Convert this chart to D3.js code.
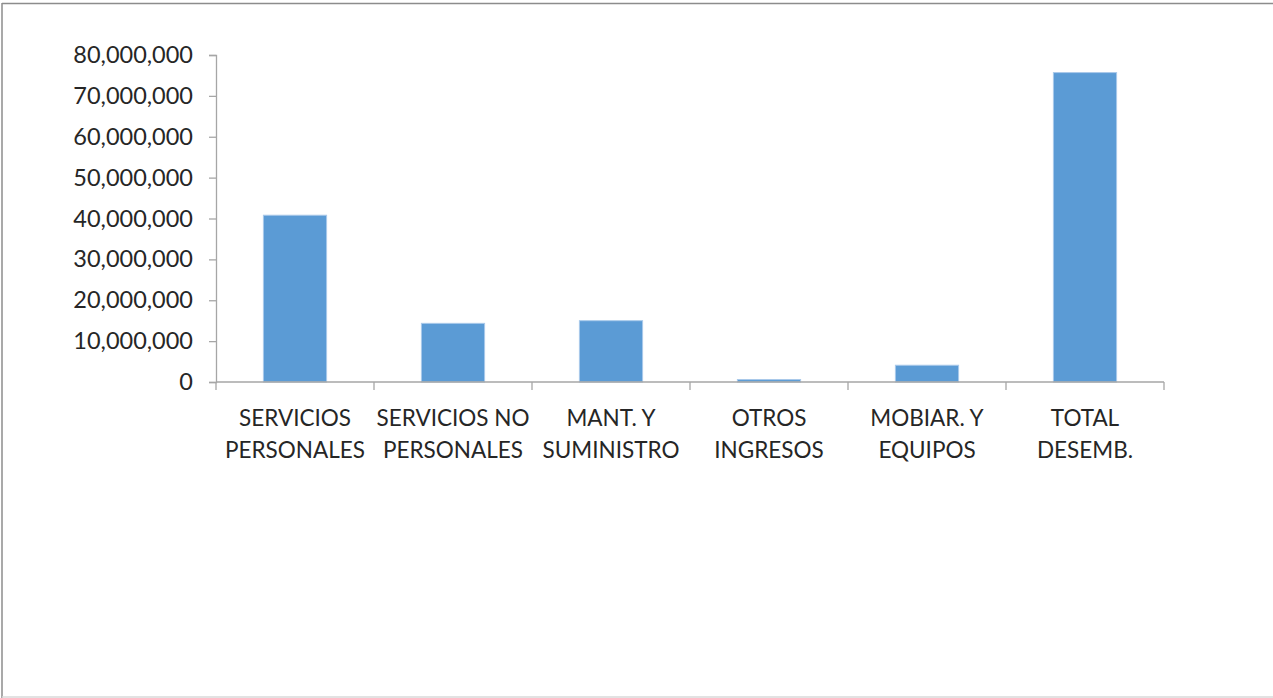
<!DOCTYPE html>
<html>
<head>
<meta charset="utf-8">
<script src="https://cdn.jsdelivr.net/npm/d3@7"></script>
<style>
  body { margin: 0; background: #fff; }
  svg { display: block; font-family: Lato, "Open Sans", sans-serif; }
</style>
</head>
<body>
<svg id="chart" width="1273" height="698"></svg>
<script>
const categories = [
  ["SERVICIOS", "PERSONALES"],
  ["SERVICIOS NO", "PERSONALES"],
  ["MANT. Y", "SUMINISTRO"],
  ["OTROS", "INGRESOS"],
  ["MOBIAR. Y", "EQUIPOS"],
  ["TOTAL", "DESEMB."]
];
const values = [40800000, 14350000, 15000000, 600000, 4100000, 75700000];
const yTicks = [0, 10000000, 20000000, 30000000, 40000000, 50000000, 60000000, 70000000, 80000000];

const svg = d3.select("#chart");

// frame like the original slide
svg.append("line").attr("x1", 2).attr("x2", 1273).attr("y1", 3.5).attr("y2", 3.5)
  .attr("stroke", "#8c8c8c").attr("stroke-width", 1.5);
svg.append("line").attr("x1", 2).attr("x2", 2).attr("y1", 3).attr("y2", 698)
  .attr("stroke", "#8c8c8c").attr("stroke-width", 1.5);
svg.append("line").attr("x1", 2).attr("x2", 1273).attr("y1", 697).attr("y2", 697)
  .attr("stroke", "#d9d9d9").attr("stroke-width", 1.5);

const plotLeft = 216, plotRight = 1164, plotTop = 55, base = 382;
const keys = categories.map((c, i) => i);

const x = d3.scaleBand().domain(keys).range([plotLeft, plotRight]).paddingInner(0.6).paddingOuter(0.3);
const xCat = d3.scaleBand().domain(keys).range([plotLeft, plotRight]);
const y = d3.scaleLinear().domain([0, 80000000]).range([base, plotTop]);

// bars
svg.selectAll("rect.bar")
  .data(values)
  .enter()
  .append("rect")
  .attr("class", "bar")
  .attr("x", (d, i) => x(i))
  .attr("width", x.bandwidth())
  .attr("y", d => y(d))
  .attr("height", d => base - y(d))
  .attr("fill", "#5b9bd5")
  .attr("stroke", "#a9c9ea")
  .attr("stroke-width", 1);

// y axis
const yAxis = d3.axisLeft(y).tickValues(yTicks).tickSize(7).tickPadding(16)
  .tickFormat(d3.format(","));
const gy = svg.append("g").attr("transform", `translate(${plotLeft},0)`).call(yAxis);
gy.select(".domain").attr("stroke", "#a6a6a6").attr("stroke-width", 1.3);
gy.selectAll(".tick line").attr("stroke", "#a6a6a6").attr("stroke-width", 1.3);
gy.selectAll(".tick text").attr("font-size", 23.5).attr("fill", "#262626")
  .attr("font-family", "Lato, sans-serif");

// x axis: ticks at category boundaries
const bounds = keys.map(i => xCat(i)).concat([plotRight]);
svg.append("line").attr("x1", plotLeft).attr("x2", plotRight).attr("y1", base).attr("y2", base)
  .attr("stroke", "#a6a6a6").attr("stroke-width", 1.3);
svg.selectAll("line.xt").data(bounds).enter().append("line")
  .attr("class", "xt")
  .attr("x1", d => d).attr("x2", d => d)
  .attr("y1", base).attr("y2", base + 8)
  .attr("stroke", "#a6a6a6").attr("stroke-width", 1.3);

// category labels
const lab = svg.selectAll("text.cat").data(categories).enter().append("text")
  .attr("class", "cat")
  .attr("text-anchor", "middle")
  .attr("font-size", 22.5)
  .attr("fill", "#262626");
lab.selectAll("tspan").data((d, i) => d.map(t => ({ t, i }))).enter().append("tspan")
  .attr("x", d => xCat(d.i) + xCat.bandwidth() / 2)
  .attr("y", (d, j) => 426 + j * 32)
  .text(d => d.t);
</script>
</body>
</html>
